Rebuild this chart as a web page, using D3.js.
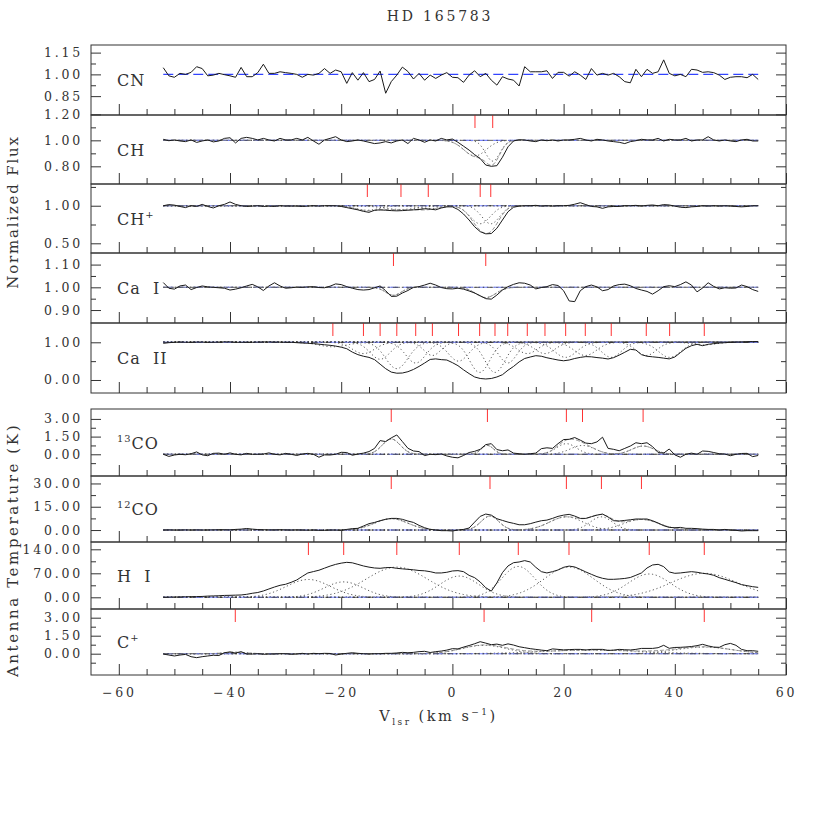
<!DOCTYPE html>
<html><head><meta charset="utf-8">
<script src="https://cdn.jsdelivr.net/npm/d3@7"></script>
<style>body{margin:0;background:#fff}</style>
</head><body><svg id="c" width="830" height="830"></svg>
<script>
// ---------------- DATA ----------------
const velocity = d3.range(-52, 56, 1); // km/s sampling grid, -52 .. 55

const cnFlux = [1.046,0.99,0.98,1.007,1.0,1.014,1.053,1.04,0.99,0.995,
1.007,0.998,0.99,0.98,1.048,0.984,0.984,1.012,1.07,1.007,
1.007,1.018,1.012,1.007,1.0,0.98,1.0,0.995,1.007,1.04,
1.007,1.03,1.018,0.938,1.012,0.96,1.012,0.95,0.965,1.023,
0.87,0.95,0.995,1.05,1.02,0.968,1.007,0.96,0.995,0.972,
0.995,1.012,0.98,0.977,0.945,0.995,1.025,0.984,1.007,0.96,
0.926,0.984,0.968,0.96,0.92,1.053,1.018,1.018,1.018,1.025,
0.972,1.014,1.014,0.988,1.018,0.995,0.965,1.04,0.995,1.007,
0.995,1.007,0.984,0.95,0.942,1.035,0.984,1.035,1.007,1.018,
1.1,1.007,0.99,1.0,0.984,1.035,1.03,1.014,1.018,1.012,
0.995,0.965,0.98,0.984,0.984,0.977,1.0,0.965];

const chFlux = [1.008,0.997,1.003,0.995,0.99,1.003,0.984,0.995,1.003,0.988,
0.995,1.015,1.02,0.98,1.015,1.023,1.015,1.003,1.015,1.003,
0.995,1.015,1.003,1.003,1.015,1.003,1.023,0.995,0.97,1.003,
1.015,1.028,1.003,0.99,0.995,1.003,0.995,0.985,0.975,0.98,
0.99,0.98,0.995,1.003,0.975,1.015,1.003,0.985,1.003,0.995,
1.015,1.003,1.01,0.985,0.955,0.925,0.89,0.86,0.81,0.80,
0.805,0.87,0.95,0.995,1.005,1.003,0.995,0.99,1.003,0.997,
1.003,0.995,1.003,1.003,1.008,1.015,1.003,0.995,1.008,1.003,
0.995,0.99,0.985,0.975,0.99,0.997,1.008,1.003,1.003,1.015,
0.995,1.008,1.003,1.003,1.015,0.995,1.003,1.003,1.028,1.003,
0.995,1.003,0.995,0.99,1.003,1.008,0.995,0.995];

const chpFlux = [1.0,1.015,1.008,0.99,0.975,1.0,0.99,1.018,0.99,0.97,
1.0,1.018,1.05,1.018,1.0,0.99,0.995,1.0,0.99,0.995,
0.99,1.0,0.995,0.995,0.995,0.99,0.995,1.0,0.995,1.0,
1.0,1.0,0.99,0.975,0.96,0.945,0.925,0.912,0.94,0.945,
0.94,0.935,0.932,0.935,0.94,0.945,0.95,0.96,0.955,0.945,
0.97,0.985,0.985,0.95,0.89,0.81,0.72,0.655,0.626,0.63,
0.70,0.81,0.92,0.98,0.995,1.0,1.0,1.005,0.995,1.0,
0.995,1.0,1.0,1.005,1.02,1.04,1.015,0.99,0.985,0.965,
0.985,0.99,0.99,1.0,1.0,1.005,0.995,1.005,1.01,1.0,
1.015,1.01,0.995,0.98,0.975,0.985,0.99,1.0,0.995,1.0,
0.995,1.0,0.995,0.99,0.985,0.99,1.0,1.0];

const caiFlux = [1.021,0.996,0.992,1.006,1.01,0.99,0.999,1.006,1.002,1.0,
0.998,0.996,0.988,0.992,0.998,1.006,1.013,1.002,0.986,1.006,
1.02,1.006,0.996,0.998,1.001,1.0,1.002,1.003,0.999,0.998,
1.005,1.015,1.012,1.003,0.996,0.99,0.988,0.99,0.998,1.006,
0.985,0.96,0.961,0.975,0.986,1.0,1.003,1.01,1.018,1.01,
0.999,0.994,0.993,0.996,0.992,0.984,0.975,0.963,0.95,0.948,
0.966,0.988,1.003,1.013,1.02,1.018,1.01,0.993,0.999,1.003,
1.012,1.008,0.985,0.94,0.937,0.985,1.003,1.01,1.002,0.985,
0.99,1.006,1.012,1.014,1.007,0.995,0.988,0.982,0.97,0.985,
1.003,1.007,1.003,1.012,1.024,1.01,0.98,0.997,1.02,1.004,
0.993,0.998,0.996,0.997,1.01,1.003,0.99,0.982];

const caiiFlux = [0.973,0.99,1.0,1.009,1.0,1.0,1.005,1.005,1.0,1.0,
1.005,1.01,1.01,1.0,1.0,1.0,1.0,1.005,1.009,1.009,
1.005,1.005,1.0,1.0,0.99,0.98,0.975,0.965,0.95,0.935,
0.92,0.9,0.87,0.83,0.74,0.673,0.63,0.6,0.54,0.42,
0.3,0.21,0.18,0.185,0.22,0.28,0.36,0.45,0.545,0.56,
0.54,0.53,0.46,0.38,0.27,0.17,0.08,0.04,0.027,0.04,
0.08,0.14,0.26,0.36,0.48,0.57,0.61,0.645,0.63,0.59,
0.56,0.53,0.51,0.53,0.57,0.6,0.62,0.615,0.595,0.58,
0.557,0.593,0.66,0.735,0.814,0.796,0.673,0.63,0.615,0.6,
0.58,0.56,0.61,0.726,0.84,0.91,0.947,0.91,0.947,0.965,
0.98,0.99,1.0,1.005,1.007,1.015,1.02,1.02];

const co13Temp = [0.0,-0.18,-0.06,0.0,-0.04,0.05,0.2,-0.05,-0.12,0.08,
0.1,0.0,0.12,0.0,-0.05,0.08,0.0,0.0,0.02,0.12,
0.0,-0.05,0.08,0.0,-0.1,0.02,0.08,0.0,-0.25,-0.05,
-0.06,0.0,0.17,0.15,-0.08,0.02,0.1,0.23,0.5,1.16,
1.08,1.39,1.64,1.08,0.51,0.28,0.23,-0.11,0.0,-0.03,
0.03,-0.14,-0.25,-0.3,-0.1,0.15,0.25,0.42,0.82,0.9,
0.4,0.3,0.37,0.1,0.05,0.0,0.05,0.1,0.48,0.55,
0.5,0.9,1.25,1.27,1.42,1.2,0.95,0.9,1.05,1.45,
0.5,0.42,0.3,0.5,0.7,0.98,0.9,0.98,0.65,0.15,
0.1,0.45,-0.05,-0.25,0.0,0.1,0.0,0.28,0.25,0.15,
0.05,0.02,-0.12,0.0,0.07,0.08,-0.2,-0.1];

const co12Temp = [0.0,0.1,0.0,0.0,0.1,0.0,0.1,0.0,0.05,0.1,
0.2,0.2,0.1,0.4,0.6,1.0,0.6,0.3,0.2,0.1,
0.1,0.2,0.1,0.0,0.1,0.0,-0.1,0.0,-0.2,-0.2,
0.0,0.0,-0.2,0.4,0.9,1.1,2.6,4.1,4.9,6.0,
6.9,7.5,7.5,6.9,5.8,4.9,3.0,1.5,0.4,0.0,
-0.4,-0.4,-0.6,0.0,0.4,1.3,5.1,8.8,10.3,9.6,
7.3,6.2,5.1,4.3,3.4,3.4,4.1,5.1,6.0,6.4,
7.5,8.8,9.6,10.1,9.0,7.5,7.5,8.6,9.6,10.3,
8.4,6.0,5.8,6.2,6.6,7.1,7.1,7.1,6.0,4.5,
2.8,1.7,1.5,1.7,1.1,1.1,0.9,0.6,0.4,0.4,
0.0,0.4,0.0,-0.2,-0.6,-0.4,-0.4,-0.4];

const hiTemp = [0,0.5,0.8,1.0,1.5,1.8,2.0,2.5,3.5,4.0,
4.5,5.5,5.8,6.3,6.8,8.7,11.7,14.0,18.5,24.3,
30,35,38,43.7,50.5,61,71,75,79,85,
91,96,99.6,102,100.6,96,91.4,88,85.5,84.6,
86.5,87,84.6,83,81.6,80.2,78.2,77.3,74.8,71,
71,73,76.8,77.8,74.8,64,57.3,44.7,28,18,
42,72,91.4,101,103,107,103,87.5,74.8,71,
74.8,79.7,87.5,91,88.5,81.6,73.9,67,60.3,55.4,
52.5,52.5,53.5,55,57.8,64.2,71,85.5,94.3,96.2,
89.4,73.9,70,71,73,74.8,73,70,68,64.2,
57.3,52.5,47.6,42.8,37,34,31,29];

const cpTemp = [-0.03,-0.11,-0.19,-0.11,-0.06,-0.25,-0.33,-0.25,-0.19,-0.13,
-0.15,0.08,0.15,0.05,0.17,-0.03,-0.03,0.0,-0.05,-0.03,
-0.03,0.0,0.0,-0.05,-0.03,0.03,-0.03,0.03,0.0,0.03,
0.02,-0.11,-0.03,0.03,0.08,0.03,0.0,-0.03,0.0,0.0,
0.03,0.03,0.06,0.11,0.08,0.11,0.17,0.2,0.1,0.17,
0.22,0.3,0.42,0.4,0.55,0.68,0.83,1.0,0.88,0.75,
0.8,0.7,0.82,0.72,0.58,0.5,0.42,0.36,0.3,0.25,
0.4,0.36,0.32,0.34,0.36,0.36,0.31,0.36,0.36,0.36,
0.27,0.3,0.36,0.33,0.31,0.36,0.44,0.44,0.44,0.5,
0.7,0.45,0.52,0.53,0.56,0.6,0.67,0.78,0.65,0.55,
0.53,0.75,0.86,0.7,0.36,0.25,0.25,0.2];

// fitted components: centre velocity (red markers), depth/amplitude, width (sigma, km/s)
const chCompVel = [4.06, 7.25], chCompAmp = [0.12, 0.16], chCompWid = [2.0, 1.3];
const chpCompVel = [-15.3, -9.25, -4.34, 5.0, 6.9], chpCompAmp = [0.06, 0.05, 0.04, 0.24, 0.24], chpCompWid = [2.2, 3.0, 2.0, 1.8, 1.6];
const caiCompVel = [-10.6, 6.0], caiCompAmp = [0.035, 0.045], caiCompWid = [1.4, 1.8];
const caiiCompVel = [-21.5,-16.0,-13.0,-10.0,-6.6,-3.6,1.1,4.9,7.66,9.95,13.47,16.65,20.37,23.9,28.57,34.87,39.07,45.3];
const caiiCompAmp = [0.12,0.3,0.45,0.7,0.55,0.35,0.5,0.8,0.8,0.55,0.3,0.3,0.4,0.35,0.4,0.35,0.4,0.07];
const caiiCompWid = [2.5,2.0,1.8,2.0,1.8,1.5,1.8,1.8,1.8,1.6,1.8,1.8,2.0,2.0,1.8,1.8,2.0,2.0];
const co13CompVel = [-11.0, 6.3, 20.5, 23.4, 34.3], co13CompAmp = [1.3, 0.75, 0.9, 0.75, 0.7], co13CompWid = [1.6, 1.1, 1.8, 2.2, 2.0];
const co12CompVel = [-11.0, 6.76, 20.5, 26.8, 34.0], co12CompAmp = [7.3, 9.0, 8.5, 8.5, 6.8], co12CompWid = [3.0, 1.6, 3.0, 2.0, 3.2];
const hiCompVel = [-25.9, -19.55, -10.0, 1.24, 11.85, 20.97, 35.4, 45.3], hiCompAmp = [52, 45, 88, 62, 90, 88, 68, 70], hiCompWid = [4.0, 3.5, 5.5, 3.5, 3.0, 4.5, 3.8, 6.0];
const cpCompVel = [-39.05, 5.7, 25.05, 45.3], cpCompAmp = [0.12, 0.7, 0.3, 0.55], cpCompWid = [2.0, 4.0, 9.0, 5.0];

// axis tick values
const xMajorTicks = [-60, -40, -20, 0, 20, 40, 60];
const xMinorTicks = [-55,-50,-45,-35,-30,-25,-15,-10,-5,5,10,15,25,30,35,45,50,55];
const cnMajor = [0.85, 1.00, 1.15], cnMinor = [0.925, 1.075];
const chMajor = [0.80, 1.00, 1.20], chMinor = [0.90, 1.10];
const chpMajor = [0.50, 1.00], chpMinor = [0.75, 1.25];
const caiMajor = [0.90, 1.00, 1.10], caiMinor = [0.95, 1.05];
const caiiMajor = [0.00, 1.00], caiiMinor = [0.50];
const co13Major = [0.00, 1.50, 3.00], co13Minor = [-0.75, 0.75, 2.25];
const co12Major = [0.00, 15.00, 30.00], co12Minor = [7.5, 22.5];
const hiMajor = [0.00, 70.00, 140.00], hiMinor = [35, 105];
const cpMajor = [0.00, 1.50, 3.00], cpMinor = [-0.75, 0.75, 2.25];

// ---------------- LAYOUT ----------------
const panels = [
 {label:[{t:'CN'}], data:cnFlux, dom:[0.72,1.2025], top:45, bot:115, base:1, major:cnMajor, minor:cnMinor, kind:'abs', blueOnly:true},
 {label:[{t:'CH'}], data:chFlux, dom:[0.664,1.195], top:115, bot:184, base:1, major:chMajor, minor:chMinor, kind:'abs', cv:chCompVel, ca:chCompAmp, cw:chCompWid, total:true},
 {label:[{t:'CH'},{t:'+',sup:true}], data:chpFlux, dom:[0.371,1.289], top:184, bot:253, base:1, major:chpMajor, minor:chpMinor, kind:'abs', cv:chpCompVel, ca:chpCompAmp, cw:chpCompWid, total:true},
 {label:[{t:'Ca  I'}], data:caiFlux, dom:[0.843,1.151], top:253, bot:323, base:1, major:caiMajor, minor:caiMinor, kind:'abs', cv:caiCompVel, ca:caiCompAmp, cw:caiCompWid, total:true},
 {label:[{t:'Ca  II'}], data:caiiFlux, dom:[-0.345,1.512], top:323, bot:393, base:1, major:caiiMajor, minor:caiiMinor, kind:'abs', cv:caiiCompVel, ca:caiiCompAmp, cw:caiiCompWid, total:false},
 {label:[{t:'13',sup:true},{t:'CO'}], data:co13Temp, dom:[-1.84,3.84], top:409, bot:476, base:0, major:co13Major, minor:co13Minor, kind:'em', cv:co13CompVel, ca:co13CompAmp, cw:co13CompWid, total:true},
 {label:[{t:'12',sup:true},{t:'CO'}], data:co12Temp, dom:[-7.7,34.8], top:476, bot:542, base:0, major:co12Major, minor:co12Minor, kind:'em', cv:co12CompVel, ca:co12CompAmp, cw:co12CompWid, total:true},
 {label:[{t:'H  I'}], data:hiTemp, dom:[-34.1,161.3], top:542, bot:609, base:0, major:hiMajor, minor:hiMinor, kind:'em', cv:hiCompVel, ca:hiCompAmp, cw:hiCompWid, total:false},
 {label:[{t:'C'},{t:'+',sup:true}], data:cpTemp, dom:[-1.775,3.725], top:609, bot:675, base:0, major:cpMajor, minor:cpMinor, kind:'em', cv:cpCompVel, ca:cpCompAmp, cw:cpCompWid, total:true, xLabels:true}
];

const font = "'DejaVu Serif','Liberation Serif',serif";
const svg = d3.select('#c');
const X0 = 91, X1 = 786;
const x = d3.scaleLinear().domain([-65, 60]).range([X0, X1]);
const vFirst = velocity[0], vLast = velocity[velocity.length - 1];
const fine = d3.range(vFirst, vLast + 0.001, 0.25);

function addText(sel, parts, xx, yy, size, anchor) {
  const t = sel.append('text').attr('x', xx).attr('y', yy)
    .attr('font-family', font).attr('font-size', size).attr('fill', '#333')
    .attr('text-anchor', anchor || 'start').style('white-space', 'pre');
  let shift = 0;
  parts.forEach(pt => {
    const ts = t.append('tspan').text(pt.t);
    const target = pt.sup ? -0.42 * size : (pt.sub ? 0.3 * size : 0);
    if (target !== shift) { ts.attr('dy', target - shift); shift = target; }
    if (pt.sup || pt.sub) ts.attr('font-size', size * 0.62);
  });
  return t;
}

const gauss = (v, c, a, w) => a * Math.exp(-0.5 * ((v - c) / w) ** 2);

panels.forEach((p, i) => {
  const y = d3.scaleLinear().domain(p.dom).range([p.bot, p.top]);
  const g = svg.append('g');
  svg.append('clipPath').attr('id', 'clip' + i).append('rect')
    .attr('x', X0).attr('y', p.top).attr('width', X1 - X0).attr('height', p.bot - p.top);
  const plot = g.append('g').attr('clip-path', `url(#clip${i})`);
  const line = d3.line().x(d => x(d[0])).y(d => y(d[1]));

  // components
  if (p.cv) {
    const compCurves = p.cv.map((c, k) => fine.map(v => [v,
      p.kind === 'abs' ? 1 - gauss(v, c, p.ca[k], p.cw[k]) : gauss(v, c, p.ca[k], p.cw[k])]));
    plot.selectAll(null).data(compCurves).enter().append('path')
      .attr('d', line).attr('fill', 'none').attr('stroke', '#444')
      .attr('stroke-width', 0.9).attr('stroke-dasharray', '1.2,2.6');
  }
  // continuum / baseline
  const baseSeg = [[vFirst, p.base], [vLast, p.base]];
  plot.append('path').datum(baseSeg).attr('d', line).attr('fill', 'none')
    .attr('stroke', p.blueOnly ? '#3344ff' : '#7a86ff').attr('stroke-width', 1.1)
    .attr('stroke-dasharray', '10,5');
  if (!p.blueOnly) {
    plot.append('path').datum(baseSeg).attr('d', line).attr('fill', 'none')
      .attr('stroke', '#333').attr('stroke-width', 0.8).attr('stroke-dasharray', '6,3,1.5,3');
  }
  // total fit
  if (p.total) {
    const tot = fine.map(v => {
      let val = p.kind === 'abs' ? 1 : 0;
      p.cv.forEach((c, k) => {
        if (p.kind === 'abs') val *= 1 - gauss(v, c, p.ca[k], p.cw[k]);
        else val += gauss(v, c, p.ca[k], p.cw[k]);
      });
      return [v, val];
    });
    plot.append('path').datum(tot).attr('d', line).attr('fill', 'none')
      .attr('stroke', '#777').attr('stroke-width', 0.8).attr('stroke-dasharray', '4,2');
  }
  // observed spectrum
  plot.append('path').datum(velocity.map((v, k) => [v, p.data[k]])).attr('d', line)
    .attr('fill', 'none').attr('stroke', '#1a1a1a').attr('stroke-width', 1);

  // red component markers
  if (p.cv) {
    g.selectAll(null).data(p.cv).enter().append('line')
      .attr('x1', d => x(d)).attr('x2', d => x(d))
      .attr('y1', p.top).attr('y2', p.top + 13)
      .attr('stroke', '#ff3333').attr('stroke-width', 1);
  }

  // axes
  const styleAxis = s => { s.select('.domain').remove(); s.attr('color', '#333')
      .attr('font-family', font).attr('font-size', 12.5);
      s.selectAll('text').attr('fill', '#333').style('letter-spacing', '2.8px'); };
  g.append('g').attr('transform', `translate(${X0},0)`)
    .call(d3.axisLeft(y).tickValues(p.major).tickSize(-10).tickPadding(8).tickFormat(d3.format('.2f')))
    .call(styleAxis);
  g.append('g').attr('transform', `translate(${X0},0)`)
    .call(d3.axisLeft(y).tickValues(p.minor).tickSize(-5).tickFormat(''))
    .call(styleAxis);
  g.append('g').attr('transform', `translate(${X1},0)`)
    .call(d3.axisRight(y).tickValues(p.major).tickSize(-10).tickFormat(''))
    .call(styleAxis);
  g.append('g').attr('transform', `translate(${X1},0)`)
    .call(d3.axisRight(y).tickValues(p.minor).tickSize(-5).tickFormat(''))
    .call(styleAxis);
  g.append('g').attr('transform', `translate(0,${p.bot})`)
    .call(d3.axisBottom(x).tickValues(xMajorTicks).tickSize(-11).tickPadding(13)
      .tickFormat(p.xLabels ? d3.format('d') : ''))
    .call(styleAxis);
  g.append('g').attr('transform', `translate(0,${p.bot})`)
    .call(d3.axisBottom(x).tickValues(xMinorTicks).tickSize(-6).tickFormat(''))
    .call(styleAxis);

  // frame
  g.append('rect').attr('x', X0).attr('y', p.top).attr('width', X1 - X0)
    .attr('height', p.bot - p.top).attr('fill', 'none').attr('stroke', '#333').attr('stroke-width', 1);

  // panel label
  addText(g, p.label, 117, (p.top + p.bot) / 2 + 6, 16).style('letter-spacing', '1px');
});

// titles
const cx = (X0 + X1) / 2;
addText(svg, [{t:'HD 165783'}], cx + 1.5, 21, 14, 'middle').style('letter-spacing', '2.8px');
addText(svg, [{t:'V'},{t:'lsr',sub:true},{t:' (km s'},{t:'−1',sup:true},{t:')'}], cx, 721, 14.5, 'middle')
  .style('letter-spacing', '2.5px');
addText(svg, [{t:'Normalized Flux'}], 0, 0, 15, 'middle')
  .attr('transform', 'translate(18,212) rotate(-90)').style('letter-spacing', '1.8px');
addText(svg, [{t:'Antenna Temperature (K)'}], 0, 0, 15, 'middle')
  .attr('transform', 'translate(18,550) rotate(-90)').style('letter-spacing', '2.6px');
</script></body></html>
